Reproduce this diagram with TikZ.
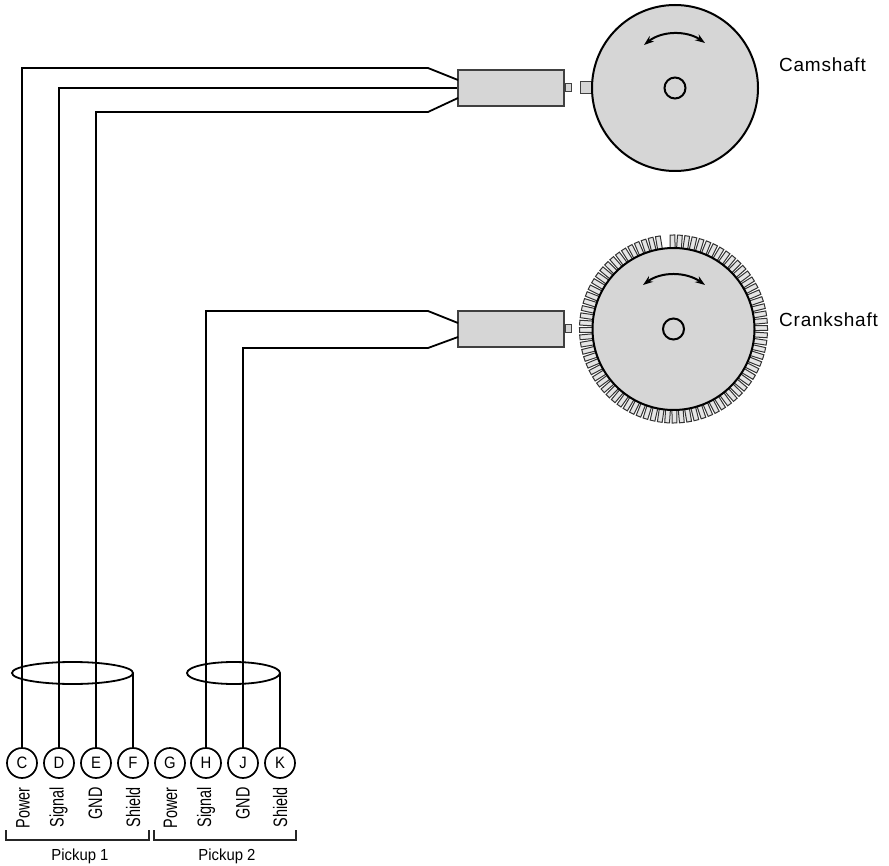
\documentclass[tikz,border=0pt]{standalone}
\usepackage{fontspec}
\setmainfont{Liberation Sans}
\newfontfamily\groupfont[FakeStretch=0.93]{Liberation Sans}
\newfontfamily\pinfont[FakeStretch=0.9]{Liberation Sans}
\newfontfamily\sidefont[FakeStretch=0.74]{Liberation Sans}
\newfontfamily\labelfont[LetterSpace=4]{Liberation Sans}
\usetikzlibrary{arrows.meta}
\definecolor{partgray}{gray}{0.84}
\tikzset{
  wire/.style={line width=1.8pt,black,line join=miter},
  body/.style={draw=black!75,fill=partgray,line width=1.5pt,minimum width=106pt,minimum height=36pt,inner sep=0pt},
  tip/.style={draw=black!75,fill=partgray,line width=1pt,minimum width=6pt,minimum height=8pt,inner sep=0pt},
  tab/.style={draw=black!75,fill=partgray,line width=1pt,minimum width=12pt,minimum height=12pt,inner sep=0pt},
  disc/.style={circle,draw=black,fill=partgray,line width=2pt,inner sep=0pt},
  hub/.style={circle,draw=black,fill=partgray,line width=2pt,minimum size=21pt,inner sep=0pt},
  pin/.style={circle,draw=black,fill=white,line width=1.7pt,minimum size=30pt,inner sep=0pt,font=\pinfont\fontsize{16.5}{16.5}\selectfont},
  pinlabel/.style={rotate=90,anchor=base east,inner sep=0pt,font=\sidefont\fontsize{19.5}{19.5}\selectfont},
  grouplabel/.style={inner sep=0pt,font=\groupfont\fontsize{16}{16}\selectfont},
  shaftlabel/.style={anchor=base west,inner sep=0pt,font=\labelfont\fontsize{19}{19}\selectfont},
  shieldline/.style={line width=1.8pt},
  swing/.style={line width=2pt,{Stealth[length=10pt,width=7pt]}-{Stealth[length=10pt,width=7pt]}},
  bracketline/.style={line width=1.7pt,black!85},
  tooth/.style={draw=black!80,fill=black!10,line width=1pt}
}
\begin{document}
\begin{tikzpicture}[x=1pt,y=-1pt]
\useasboundingbox (0,0) rectangle (889,866);
% pins
\foreach \n/\t/\x in {c/C/22,d/D/59,e/E/96,f/F/133,g/G/170,h/H/206,j/J/243,k/K/280}
  \node[pin] (\n) at (\x,763) {\t};
% sensors
\node[body] (cam) at (511,88) {};
\node[body] (crank) at (511,329) {};
\node[tip,anchor=west] (camtip) at (cam.east) {};
\node[tip,anchor=west] (cranktip) at (crank.east) {};
% shields
\draw[shieldline] (72.5,673) ellipse [x radius=60.5,y radius=11];
\draw[shieldline] (233.5,673) ellipse [x radius=46.5,y radius=11];
\coordinate (s1) at (133,673);
\coordinate (s2) at (280,673);
\draw[wire] (f.north) -- (s1);
\draw[wire] (k.north) -- (s2);
% wires
\draw[wire] (c.north) -- (22,68) -- (428,68) -- (458,80);
\draw[wire] (d.north) -- (59,88) -- (cam.west);
\draw[wire] (e.north) -- (96,112) -- (428,112) -- (458,98);
\draw[wire] (h.north) -- (206,311) -- (428,311) -- (458,323);
\draw[wire] (j.north) -- (243,348) -- (428,348) -- (458,337);
% camshaft disc
\node[tab] (camtab) at (586,88) {};
\node[disc,minimum size=166pt] (camdisc) at (675,88) {};
\node[hub] (camhub) at (camdisc.center) {};
\draw[swing] (644,45) .. controls (662,30.5) and (687,30.5) .. (705,43);
% crankshaft teeth
\foreach \i in {0,...,79}{
  \pgfmathsetmacro\a{\i*4.5+0.6}
  \ifnum\i=21\relax\else
  \draw[tooth,rotate around={\a:(673.5,329)}] (754,326.6) rectangle (767.5,331.4);
  \fi
}
\node[disc,minimum size=162pt] (crankdisc) at (673.5,329) {};
\node[hub] (crankhub) at (crankdisc.center) {};
\draw[swing] (643,285) .. controls (661,271.5) and (686,271.5) .. (705,285);
% labels
\node[shaftlabel] (camlabel) at (779,71.5) {Camshaft};
\node[shaftlabel] (cranklabel) at (779,327) {Crankshaft};
\foreach \x/\t/\n in {29.5/Power/l1,63.5/Signal/l2,102/GND/l3,140/Shield/l4,177/Power/l5,211/Signal/l6,249.5/GND/l7,287/Shield/l8}
  \node[pinlabel] (\n) at (\x,787) {\t};
\draw[bracketline] (6,830) -- (6,840) -- (149,840) -- (149,830);
\draw[bracketline] (154,830) -- (154,840) -- (296,840) -- (296,830);
\node[grouplabel] (p1) at (80,856) {Pickup 1};
\node[grouplabel] (p2) at (227,856) {Pickup 2};
\end{tikzpicture}
\end{document}
